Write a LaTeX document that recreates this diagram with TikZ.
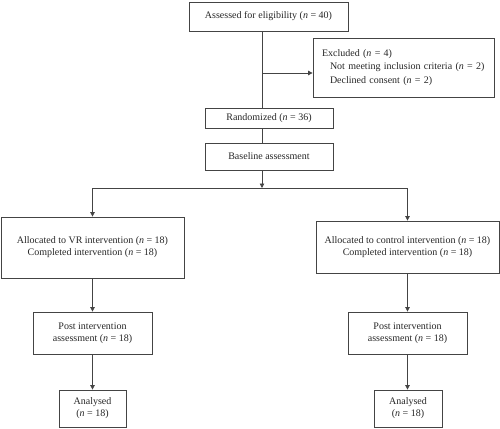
\documentclass[tikz,border=0pt]{standalone}
\usepackage{fontspec}
\setmainfont{Liberation Serif}
\usetikzlibrary{arrows.meta}
\definecolor{ln}{HTML}{444444}
\begin{document}
\begin{tikzpicture}[x=1pt,y=1pt,
  box/.style={draw=ln,line width=0.8pt,inner sep=0pt,align=center,font=\fontsize{10}{12}\selectfont,text=black!85},
  conn/.style={draw=ln,line width=0.8pt},
  arr/.style={conn,-{Triangle[length=4.5pt,width=4.5pt]}}]
\useasboundingbox (0,0) rectangle (500,-428);
\node[box,minimum width=159pt,minimum height=29pt] (assess) at (268.5,-16.5) {Assessed for eligibility (\textit{n} = 40)};
\node[box,minimum width=181pt,minimum height=59pt,text width=163pt,inner xsep=9pt,align=left,font=\fontsize{10}{13.5}\selectfont] (excl) at (403.5,-67.5) {Excluded (\textit{n} = 4)\\\hspace*{8pt}Not meeting inclusion criteria (\textit{n} = 2)\\\hspace*{8pt}Declined consent (\textit{n} = 2)};
\node[box,minimum width=128pt,minimum height=20pt] (rand) at (269,-118) {Randomized (\textit{n} = 36)};
\node[box,minimum width=128pt,minimum height=27pt] (base) at (269,-156.5) {Baseline assessment};
\node[box,minimum width=183pt,minimum height=61pt] (allocL) at (92.5,-247.5) {Allocated to VR intervention (\textit{n} = 18)\\Completed intervention (\textit{n} = 18)};
\node[box,minimum width=183pt,minimum height=52pt] (allocR) at (407.5,-247) {Allocated to control intervention (\textit{n} = 18)\\Completed intervention (\textit{n} = 18)};
\node[box,minimum width=119pt,minimum height=42pt] (postL) at (92.5,-333) {Post intervention\\assessment (\textit{n} = 18)};
\node[box,minimum width=119pt,minimum height=42pt] (postR) at (407.5,-333) {Post intervention\\assessment (\textit{n} = 18)};
\node[box,minimum width=67pt,minimum height=37pt] (anL) at (92.5,-408.5) {Analysed\\(\textit{n} = 18)};
\node[box,minimum width=68pt,minimum height=37pt] (anR) at (408,-408.5) {Analysed\\(\textit{n} = 18)};
\coordinate (trunk) at (262,0);
\coordinate (excly) at (0,-73);
\coordinate (split) at (262,-188);
\coordinate (splitL) at (92.5,-188);
\coordinate (splitR) at (407.5,-188);
\draw[conn] (assess.south -| trunk) -- (rand.north -| trunk);
\draw[arr] (trunk |- excly) -- (excl.west |- excly);
\draw[conn] (rand.south -| trunk) -- (base.north -| trunk);
\draw[arr] (base.south -| trunk) -- (split);
\draw[conn] (splitL) -- (splitR);
\draw[arr] (splitL) -- (allocL.north);
\draw[arr] (splitR) -- (allocR.north);
\draw[arr] (allocL.south) -- (postL.north);
\draw[arr] (allocR.south) -- (postR.north);
\draw[arr] (postL.south) -- (anL.north);
\draw[arr] (postR.south) -- (postR.south |- anR.north);
\end{tikzpicture}
\end{document}
